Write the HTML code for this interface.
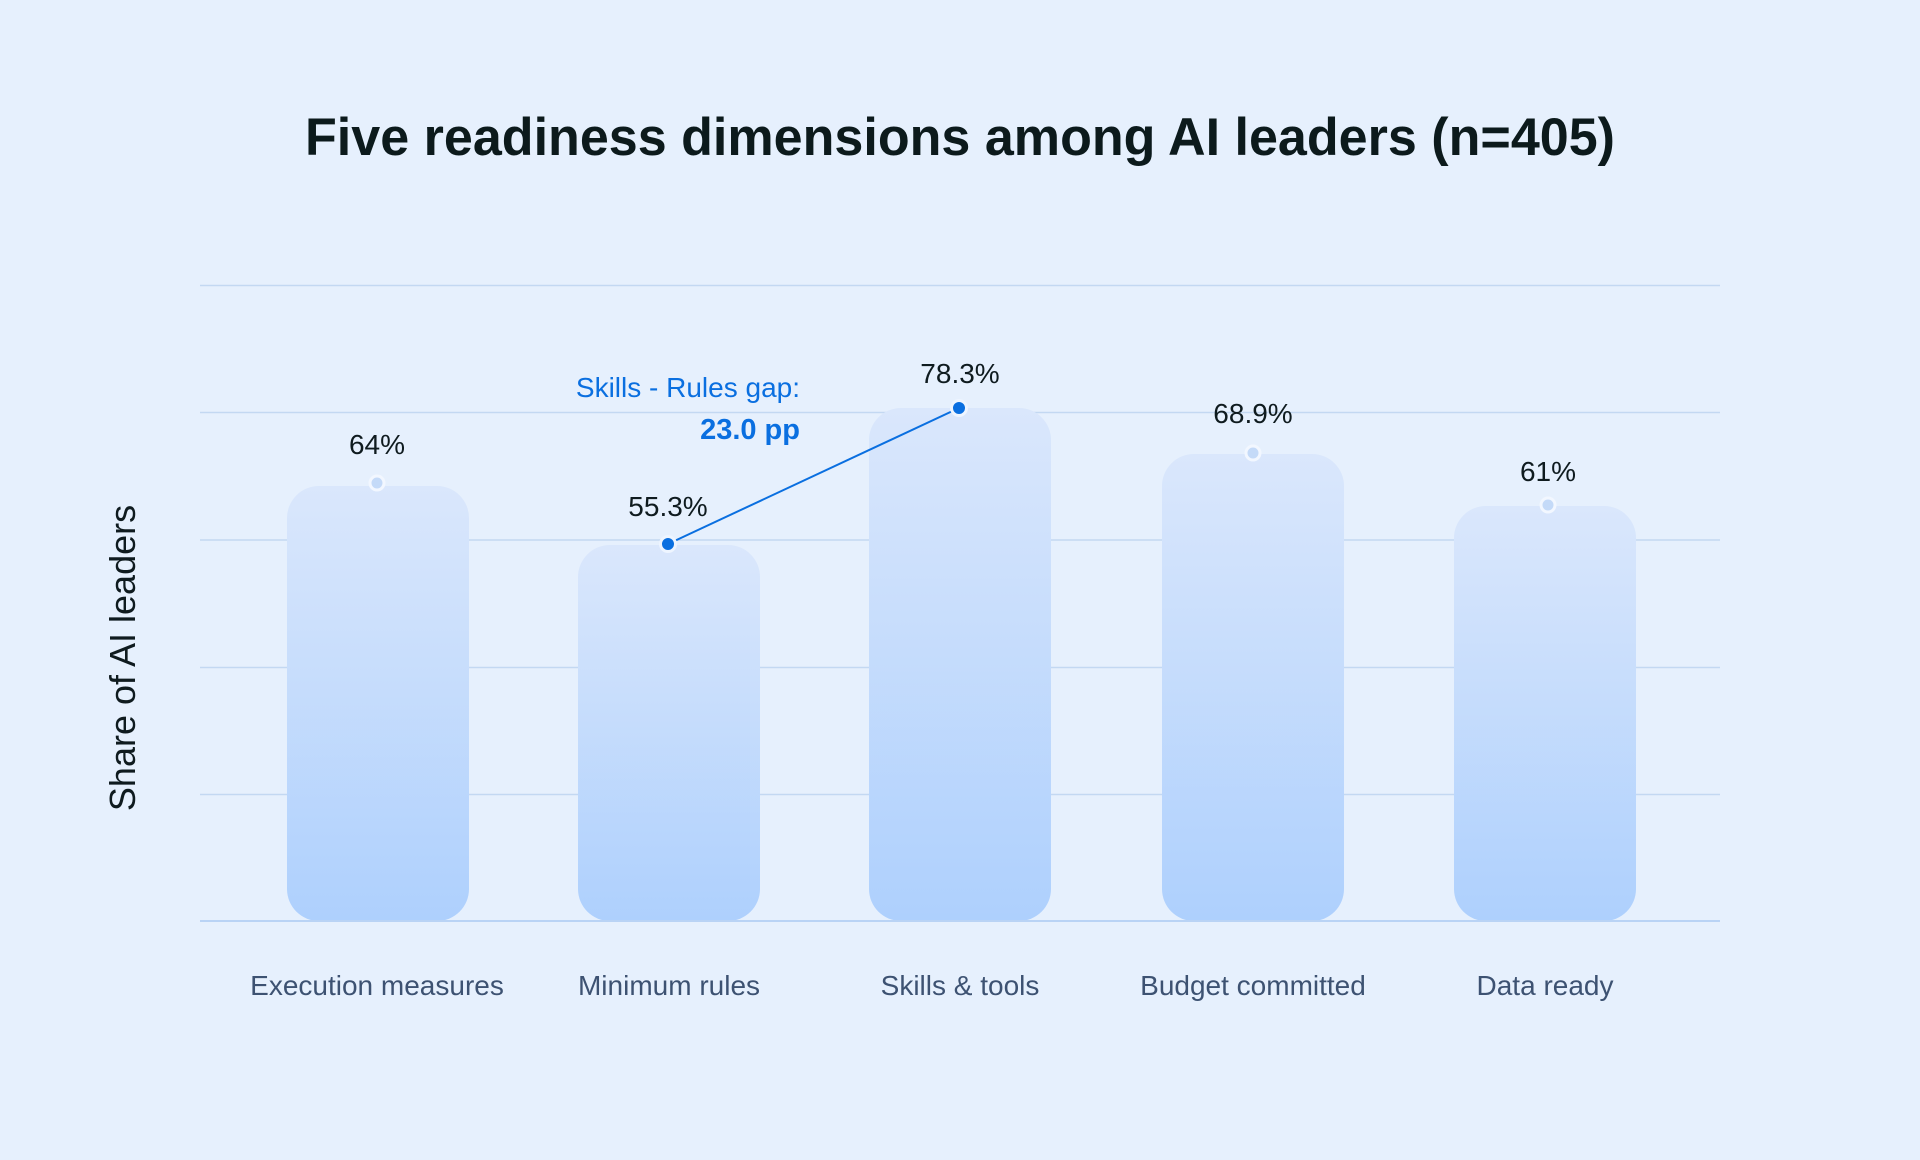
<!DOCTYPE html>
<html><head><meta charset="utf-8"><style>
html,body{margin:0;padding:0;background:#e6f0fd;}
svg{display:block}
text{font-family:"Liberation Sans",sans-serif}
</style></head><body>
<svg width="1920" height="1160" viewBox="0 0 1920 1160" xmlns="http://www.w3.org/2000/svg">
<defs>
<linearGradient id="g" x1="0" y1="0" x2="0" y2="1">
<stop offset="0" stop-color="#dae7fc"/><stop offset="1" stop-color="#aed0fd"/>
</linearGradient>
</defs>
<rect width="1920" height="1160" fill="#e6f0fd"/>
<text x="960" y="155" text-anchor="middle" font-size="53" font-weight="600" fill="#0c1a1c" textLength="1310" lengthAdjust="spacingAndGlyphs">Five readiness dimensions among AI leaders (n=405)</text>
<g stroke="#c3d8f2" stroke-width="1.5">
<line x1="200" y1="285.5" x2="1720" y2="285.5"/>
<line x1="200" y1="412.5" x2="1720" y2="412.5"/>
<line x1="200" y1="540" x2="1720" y2="540"/>
<line x1="200" y1="667.5" x2="1720" y2="667.5"/>
<line x1="200" y1="794.5" x2="1720" y2="794.5"/>
</g>
<g fill="url(#g)">
<rect x="287" y="486" width="182" height="435" rx="32"/>
<rect x="578" y="545" width="182" height="376" rx="32"/>
<rect x="869" y="408" width="182" height="513" rx="32"/>
<rect x="1162" y="454" width="182" height="467" rx="32"/>
<rect x="1454" y="506" width="182" height="415" rx="32"/>
</g>
<line x1="200" y1="921" x2="1720" y2="921" stroke="#b9d3f5" stroke-width="2"/>
<line x1="668" y1="544" x2="959" y2="408" stroke="#0a6fe0" stroke-width="2"/>
<g fill="#c4daf8" stroke="#f2f7ff" stroke-width="3">
<circle cx="377" cy="483" r="7"/>
<circle cx="1253" cy="453" r="7"/>
<circle cx="1548" cy="505" r="7"/>
</g>
<g fill="#0a6fe0" stroke="#eef5ff" stroke-width="3">
<circle cx="668" cy="544" r="7.5"/>
<circle cx="959" cy="408" r="7.5"/>
</g>
<g font-size="28" fill="#0f1b1f" text-anchor="middle">
<text x="377" y="454">64%</text>
<text x="668" y="516">55.3%</text>
<text x="960" y="383">78.3%</text>
<text x="1253" y="423">68.9%</text>
<text x="1548" y="481">61%</text>
</g>
<text x="800" y="397" text-anchor="end" font-size="28" fill="#0a6fe0">Skills - Rules gap:</text>
<text x="800" y="439" text-anchor="end" font-size="29" font-weight="bold" fill="#0a6fe0">23.0 pp</text>
<g font-size="28" fill="#3d5272" text-anchor="middle">
<text x="377" y="995">Execution measures</text>
<text x="669" y="995">Minimum rules</text>
<text x="960" y="995">Skills &amp; tools</text>
<text x="1253" y="995">Budget committed</text>
<text x="1545" y="995">Data ready</text>
</g>
<text transform="translate(135,658) rotate(-90)" text-anchor="middle" font-size="36" fill="#0f1b1f">Share of AI leaders</text>
</svg>
</body></html>
